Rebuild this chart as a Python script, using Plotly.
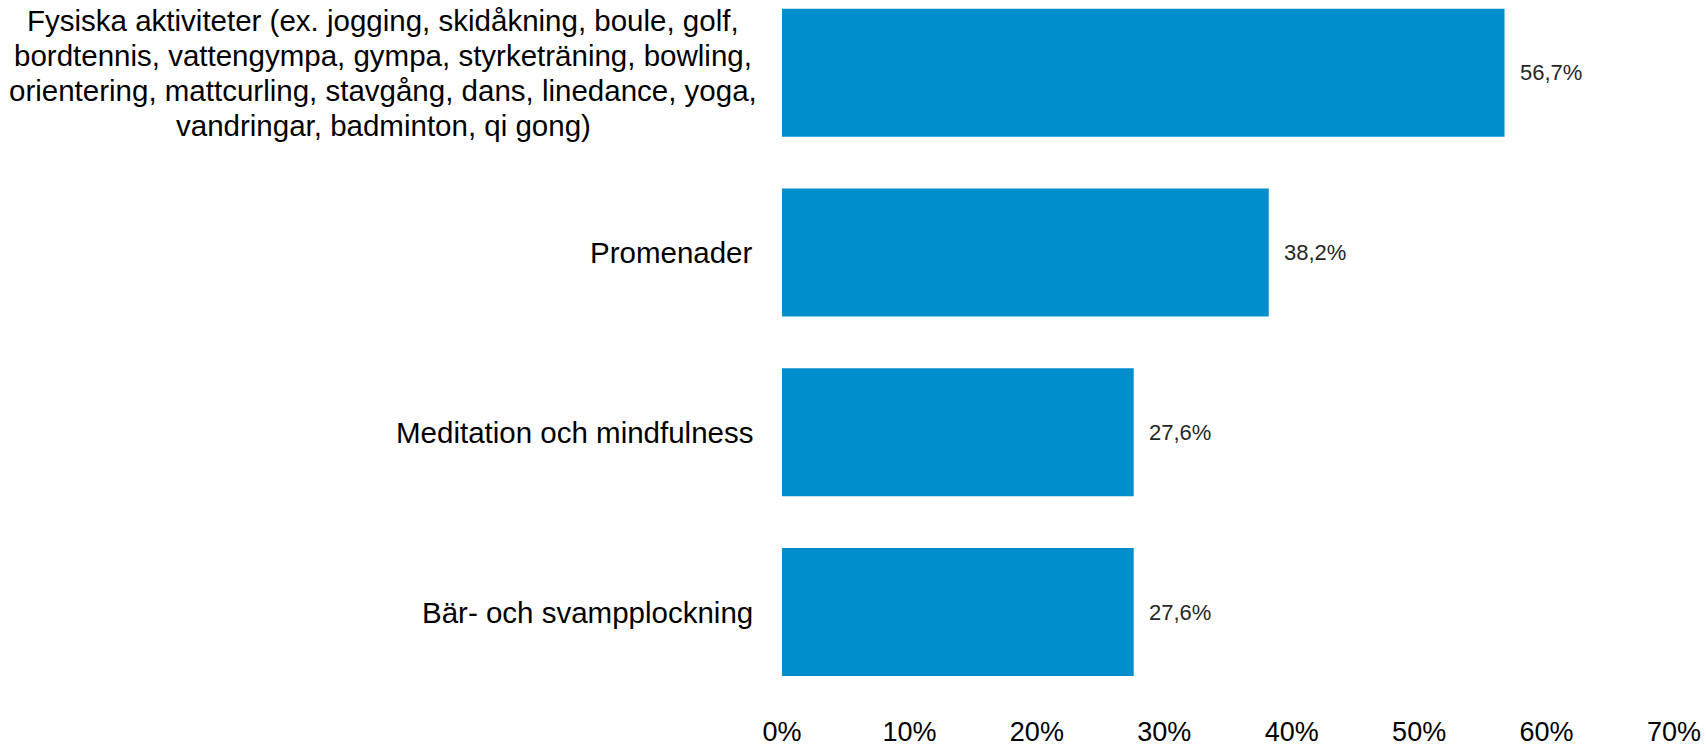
import plotly.graph_objects as go

categories = [
    "Fysiska aktiviteter (ex. jogging, skidåkning, boule, golf,<br>"
    "bordtennis, vattengympa, gympa, styrketräning, bowling,<br>"
    "orientering, mattcurling, stavgång, dans, linedance, yoga,<br>"
    "vandringar, badminton, qi gong)",
    "Promenader",
    "Meditation och mindfulness",
    "Bär- och svampplockning",
]
values = [56.7, 38.2, 27.6, 27.6]
value_labels = ["56,7%", "38,2%", "27,6%", "27,6%"]
tick_values = [0, 10, 20, 30, 40, 50, 60, 70]
tick_labels = ["0%", "10%", "20%", "30%", "40%", "50%", "60%", "70%"]

BAR_COLOR = "#008FCC"
FONT = "Liberation Sans, Arial, sans-serif"
LINE_SPACING = 35
ids = list(range(len(categories)))

fig = go.Figure(
    go.Bar(
        x=values,
        y=ids,
        orientation="h",
        marker=dict(color=BAR_COLOR, line=dict(width=0)),
        hoverinfo="skip",
    )
)

for i, (v, lab) in enumerate(zip(values, value_labels)):
    fig.add_annotation(
        x=v, y=i, xref="x", yref="y", text=lab, showarrow=False,
        xanchor="left", yanchor="middle", xshift=13,
        font=dict(family=FONT, size=22, color="#262626"),
    )

for i, cat in enumerate(categories):
    lines = cat.split("<br>")
    n = len(lines)
    for k, line in enumerate(lines):
        fig.add_annotation(
            x=0, y=i, xref="paper", yref="y", text=line, showarrow=False,
            xanchor="center" if n > 1 else "right", yanchor="middle",
            xshift=(-27 - 372) if n > 1 else -27,
            yshift=((n - 1) / 2 - k) * LINE_SPACING,
            font=dict(family=FONT, size=29.5, color="#000000"),
        )

fig.update_layout(
    width=1706, height=750,
    margin=dict(l=782, r=32, t=0, b=48, autoexpand=False),
    paper_bgcolor="white", plot_bgcolor="white",
    bargap=0.288,
    showlegend=False,
    font=dict(family=FONT, color="#000000"),
)
fig.update_xaxes(
    range=[0, 70], tickvals=tick_values, ticktext=tick_labels,
    showgrid=False, zeroline=False, showline=False, automargin=False,
    ticks="outside", ticklen=6, tickcolor="rgba(0,0,0,0)",
    tickfont=dict(family=FONT, size=27, color="#000000"),
)
fig.update_yaxes(
    range=[3.5, -0.405], showticklabels=False, showgrid=False,
    zeroline=False, showline=False, ticks="", automargin=False,
)

fig.write_html(
    "out.html",
    config={"displayModeBar": False},
    post_script="document.body.style.margin='0';",
)
